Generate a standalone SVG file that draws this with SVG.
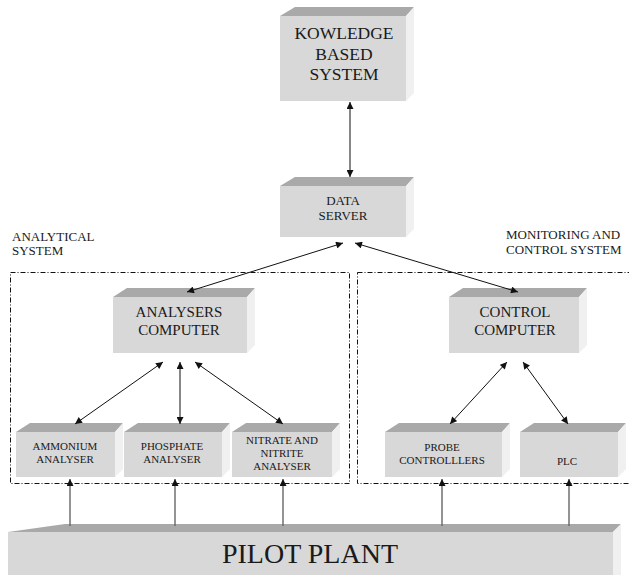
<svg xmlns="http://www.w3.org/2000/svg" width="629" height="575" viewBox="0 0 629 575">
<defs>
<marker id="ah" viewBox="0 0 10 10" refX="10" refY="5" markerWidth="8" markerHeight="7" markerUnits="userSpaceOnUse" orient="auto-start-reverse">
<path d="M0,0 L10,5 L0,10 z" fill="#111"/>
</marker>
<style>
.front{fill:#d8d8d8}
.top{fill:#a9a9a9}
.side{fill:#f0f0f0}
text{font-family:"Liberation Serif","Times New Roman",serif;fill:#1a1a1a;text-anchor:middle}
.lbl{text-anchor:start;font-size:13px}
.conn{stroke:#111;stroke-width:1;fill:none}
.up{stroke:#666;stroke-width:1.4;fill:none}
.grp{fill:none;stroke:#111;stroke-width:1;stroke-dasharray:5,2,1,2}
</style>
</defs>
<rect width="629" height="575" fill="#fff"/>

<g id="groups">
<rect class="grp" x="10.5" y="272.5" width="339" height="211"/>
<rect class="grp" x="357.5" y="272.5" width="290" height="211"/>
<text class="lbl" x="12" y="241">ANALYTICAL</text>
<text class="lbl" x="12" y="255">SYSTEM</text>
<text class="lbl" x="506" y="239">MONITORING AND</text>
<text class="lbl" x="506" y="254">CONTROL SYSTEM</text>
</g>

<g id="kbs">
<polygon class="top" points="280,16 295,7 414,7 406,16"/>
<polygon class="side" points="406,16 414,7 414,93 406,101"/>
<rect class="front" x="280" y="16" width="126" height="85"/>
<text x="344" y="39" font-size="17.5">KOWLEDGE</text>
<text x="344" y="60" font-size="17.5">BASED</text>
<text x="344" y="80" font-size="17.5">SYSTEM</text>
</g>

<g id="data-server">
<polygon class="top" points="280,186 295,177 414,177 406,186"/>
<polygon class="side" points="406,186 414,177 414,229 406,237"/>
<rect class="front" x="280" y="186" width="126" height="51"/>
<text x="343" y="205" font-size="13">DATA</text>
<text x="343" y="220" font-size="13">SERVER</text>
</g>

<g id="analysers-computer">
<polygon class="top" points="113,297 127,288 255,288 247,297"/>
<polygon class="side" points="247,297 255,288 255,345 247,353"/>
<rect class="front" x="113" y="297" width="134" height="56"/>
<text x="179" y="317" font-size="15">ANALYSERS</text>
<text x="179" y="335" font-size="15">COMPUTER</text>
</g>

<g id="control-computer">
<polygon class="top" points="449,297 463,288 587,288 579,297"/>
<polygon class="side" points="579,297 587,288 587,345 579,353"/>
<rect class="front" x="449" y="297" width="130" height="56"/>
<text x="515" y="317" font-size="15">CONTROL</text>
<text x="515" y="335" font-size="15">COMPUTER</text>
</g>

<g id="ammonium">
<polygon class="top" points="16,432 30,423 123,423 115,432"/>
<polygon class="side" points="115,432 123,423 123,469 115,477"/>
<rect class="front" x="16" y="432" width="99" height="45"/>
<text x="65" y="450" font-size="11">AMMONIUM</text>
<text x="65" y="463" font-size="11">ANALYSER</text>
</g>

<g id="phosphate">
<polygon class="top" points="124,432 138,423 230,423 222,432"/>
<polygon class="side" points="222,432 230,423 230,469 222,477"/>
<rect class="front" x="124" y="432" width="98" height="45"/>
<text x="172" y="450" font-size="11">PHOSPHATE</text>
<text x="172" y="463" font-size="11">ANALYSER</text>
</g>

<g id="nitrate">
<polygon class="top" points="232,432 246,423 340,423 332,432"/>
<polygon class="side" points="332,432 340,423 340,469 332,477"/>
<rect class="front" x="232" y="432" width="100" height="45"/>
<text x="282" y="444" font-size="11">NITRATE AND</text>
<text x="282" y="457" font-size="11">NITRITE</text>
<text x="282" y="470" font-size="11">ANALYSER</text>
</g>

<g id="probe">
<polygon class="top" points="385,432 399,423 510,423 502,432"/>
<polygon class="side" points="502,432 510,423 510,469 502,477"/>
<rect class="front" x="385" y="432" width="117" height="45"/>
<text x="442" y="451" font-size="11">PROBE</text>
<text x="442" y="464" font-size="11">CONTROLLLERS</text>
</g>

<g id="plc">
<polygon class="top" points="520,432 534,423 626,423 618,432"/>
<polygon class="side" points="618,432 626,423 626,469 618,477"/>
<rect class="front" x="520" y="432" width="98" height="45"/>
<text x="567" y="465" font-size="11">PLC</text>
</g>

<g id="pilot-plant">
<polygon class="top" points="8,532 65,524 621,524 613,532"/>
<polygon class="side" points="613,532 621,524 621,575 613,575"/>
<rect class="front" x="8" y="532" width="605" height="43"/>
<text x="310" y="563" font-size="28">PILOT PLANT</text>
</g>

<g id="connectors">
<line class="conn" x1="350" y1="102" x2="350" y2="177" marker-start="url(#ah)" marker-end="url(#ah)"/>
<line class="conn" x1="343" y1="243" x2="187" y2="292" marker-start="url(#ah)" marker-end="url(#ah)"/>
<line class="conn" x1="355" y1="243" x2="518" y2="292" marker-start="url(#ah)" marker-end="url(#ah)"/>
<line class="conn" x1="163" y1="362" x2="75" y2="424" marker-start="url(#ah)" marker-end="url(#ah)"/>
<line class="conn" x1="180" y1="362" x2="180" y2="424" marker-start="url(#ah)" marker-end="url(#ah)"/>
<line class="conn" x1="195" y1="362" x2="283" y2="424" marker-start="url(#ah)" marker-end="url(#ah)"/>
<line class="conn" x1="507" y1="362" x2="450" y2="424" marker-start="url(#ah)" marker-end="url(#ah)"/>
<line class="conn" x1="523" y1="362" x2="568" y2="424" marker-start="url(#ah)" marker-end="url(#ah)"/>
<line class="up" x1="70" y1="526" x2="70" y2="479" marker-end="url(#ah)"/>
<line class="up" x1="175" y1="526" x2="175" y2="479" marker-end="url(#ah)"/>
<line class="up" x1="283" y1="526" x2="283" y2="479" marker-end="url(#ah)"/>
<line class="up" x1="442" y1="526" x2="442" y2="479" marker-end="url(#ah)"/>
<line class="up" x1="569" y1="526" x2="569" y2="479" marker-end="url(#ah)"/>
</g>
</svg>
